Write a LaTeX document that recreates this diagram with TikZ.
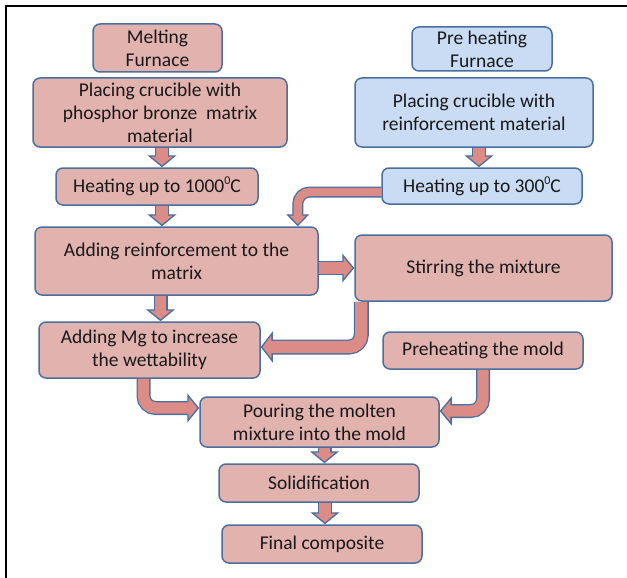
\documentclass[tikz,border=0pt]{standalone}
\usepackage{fontspec}
\setmainfont{Carlito}
\usetikzlibrary{arrows.meta}

\definecolor{rosa}{HTML}{E2B2AF}
\definecolor{celeste}{HTML}{C9DCF4}
\definecolor{borde}{HTML}{4A6F9E}
\definecolor{flecha}{HTML}{DB8C86}

\newcommand{\grado}{\raisebox{0.42em}{\fontsize{12}{12}\selectfont 0}}

\tikzset{
  caja/.style={draw=borde, line width=1.5pt, rounded corners=7pt, fill=rosa,
    align=center, inner sep=0pt, text=black!90,
    font=\fontsize{19.5}{23}\selectfont},
  cajaazul/.style={caja, fill=celeste},
}

% flecha de bloque: [ancho del cuerpo]{camino}
\newcommand{\bloque}[2][14]{%
  \pgfmathsetmacro{\anchoint}{#1-2.6}%
  \pgfmathsetmacro{\anchopunta}{2*#1+1}%
  \draw[borde, line width=#1pt, rounded corners=12pt,
    -{Triangle[width=\anchopunta pt, length=12pt, line width=1.3pt, fill=flecha]}] #2;
  \draw[flecha, line width=\anchoint pt, rounded corners=12pt, shorten >=10pt] #2;
}

\begin{document}
\begin{tikzpicture}[x=1pt, y=-1pt] %Diagrama del proceso
            \useasboundingbox (0,0) rectangle (627,578);
            \draw[line width=2pt] (6,578) -- (6,6) -- (627,6);

            \node[caja, minimum width=129pt, minimum height=48pt] (melt) at (157.5,48) {Melting\\Furnace};
            \node[caja, minimum width=254pt, minimum height=69pt] (placeA) at (160,112.5) {Placing crucible with\\phosphor bronze\ \ matrix\\material};
            \node[caja, minimum width=202pt, minimum height=37pt] (heatA) at (157,186.5) {Heating up to 1000\grado C};
            \node[caja, minimum width=283pt, minimum height=68pt] (addR) at (176.5,261) {Adding reinforcement to the\\matrix};

            \node[cajaazul, minimum width=140pt, minimum height=44pt] (preF) at (482,49) {Pre heating\\Furnace};
            \node[cajaazul, minimum width=238pt, minimum height=69pt] (placeB) at (474,112.5) {Placing crucible with\\reinforcement material};
            \node[cajaazul, minimum width=200pt, minimum height=36pt] (heatB) at (482,186) {Heating up to 300\grado C};

            \node[caja, minimum width=257pt, minimum height=66pt] (stir) at (483.5,268) {Stirring the mixture};
            \node[caja, minimum width=221pt, minimum height=56pt] (addMg) at (149.5,350) {Adding Mg to increase\\the wettability};
            \node[caja, minimum width=200pt, minimum height=37pt] (preM) at (483,350.5) {Preheating the mold};
            \node[caja, minimum width=239pt, minimum height=50pt] (pour) at (319.5,422) {Pouring the molten\\mixture into the mold};
            \node[caja, minimum width=200pt, minimum height=38pt] (solid) at (319,483) {Solidification};
            \node[caja, minimum width=200pt, minimum height=38pt] (final) at (322,544) {Final composite};

            \bloque{([xshift=2pt]placeA.south) -- ([xshift=2pt]placeA.south |- heatA.north)}
            \bloque{([xshift=5pt]heatA.south) -- ([xshift=5pt]heatA.south |- addR.north)}
            \bloque{([xshift=5pt]placeB.south) -- ([xshift=5pt]placeB.south |- heatB.north)}
            \bloque[11]{([yshift=-6pt]heatB.west) -| ([xshift=-21pt]addR.north east)}

            \bloque{(addR.east |- stir.west) -- (stir.west)}
            \bloque[15]{([xshift=7pt]stir.south west) |- ([yshift=3pt]addMg.east)}
            \bloque{([xshift=-16pt]addR.south) -- ([xshift=-16pt]addR.south |- addMg.north)}

            \bloque{([xshift=-6pt]addMg.south) |- ([yshift=14pt]pour.west)}
            \bloque{(preM.south) |- ([yshift=11pt]pour.east)}
            \bloque{([xshift=5pt]pour.south) -- ([xshift=5pt]pour.south |- solid.north)}
            \bloque{([xshift=6pt]solid.south) -- ([xshift=6pt]solid.south |- final.north)}
        \end{tikzpicture}
\end{document}
